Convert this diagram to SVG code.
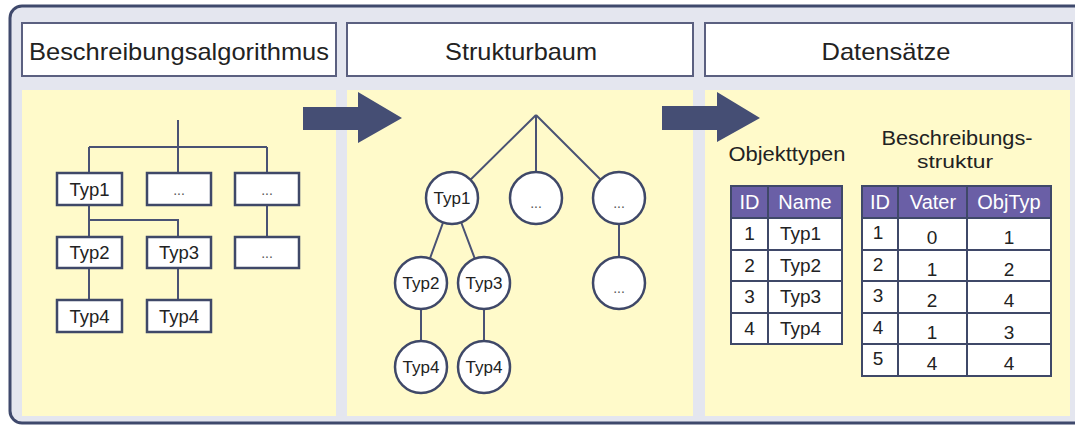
<svg xmlns="http://www.w3.org/2000/svg" width="1075" height="426" viewBox="0 0 1075 426">
  <style>
    text { font-family: "Liberation Sans", Arial, sans-serif; fill: #222; }
    .frame { fill: #e4e6ef; stroke: #3f496c; stroke-width: 3; }
    .head { fill: #ffffff; stroke: #5b6080; stroke-width: 2; }
    .panel { fill: #fffaca; }
    .htxt { font-size: 24px; text-anchor: middle; }
    .arrow { fill: #454e74; }
    .wire { fill: none; stroke: #4a5274; stroke-width: 2; }
    .box { fill: #ffffff; stroke: #3f4868; stroke-width: 2.5; }
    .circ { fill: #ffffff; stroke: #3f4868; stroke-width: 2.5; }
    .lbl { font-size: 18.5px; text-anchor: middle; }
    .clbl { font-size: 17px; text-anchor: middle; }
    .dots { font-size: 14px; text-anchor: middle; fill: #555; }
    .cap { font-size: 20px; text-anchor: middle; }
    .cap2 { font-size: 19px; text-anchor: middle; }
    .thead { fill: #6a5fa6; }
    .tbody { fill: #ffffff; }
    .grid { fill: none; stroke: #3f4868; stroke-width: 2; }
    .th { font-size: 20px; fill: #ffffff; text-anchor: middle; }
    .td { font-size: 19px; text-anchor: middle; }
    .tdl { font-size: 19px; }
  </style>

  <!-- outer frame -->
  <rect class="frame" x="10" y="6" width="1085" height="417" rx="12"/>

  <!-- column headers -->
  <g id="header-algorithmus">
    <rect class="head" x="22" y="23" width="314" height="53"/>
    <text class="htxt" x="179" y="60" textLength="300" lengthAdjust="spacingAndGlyphs">Beschreibungsalgorithmus</text>
  </g>
  <g id="header-strukturbaum">
    <rect class="head" x="347" y="23" width="346" height="53"/>
    <text class="htxt" x="521" y="60" textLength="152" lengthAdjust="spacingAndGlyphs">Strukturbaum</text>
  </g>
  <g id="header-datensaetze">
    <rect class="head" x="705" y="23" width="367" height="53"/>
    <text class="htxt" x="886" y="60" textLength="129" lengthAdjust="spacingAndGlyphs">Datensätze</text>
  </g>

  <!-- yellow panels -->
  <rect class="panel" x="22" y="90" width="314" height="326"/>
  <rect class="panel" x="347" y="90" width="346" height="326"/>
  <rect class="panel" x="705" y="90" width="365" height="326"/>

  <!-- transition arrows -->
  <g id="arrow-1">
    <polygon class="arrow" points="303,107 358,107 358,92 402,118 358,143 358,130 303,130"/>
  </g>
  <g id="arrow-2">
    <polygon class="arrow" points="662,106 717,106 717,92 760,118 717,142 717,130 662,130"/>
  </g>

  <!-- connectors -->
  <g id="connectors">
    <!-- box tree -->
    <path class="wire" d="M178 120 V147 M89 147 H267 M89 147 V173 M178 147 V173 M267 147 V173"/>
    <path class="wire" d="M89 205 V237 M89 220 H178 V237 M267 205 V237"/>
    <path class="wire" d="M89 268 V300 M178 268 V300"/>
    <!-- circle tree -->
    <path class="wire" d="M536 115 L452 198 M536 115 L536 198 M536 115 L619 198"/>
    <path class="wire" d="M452 198 L421 283 M452 198 L484 283 M619 198 L619 283"/>
    <path class="wire" d="M421 283 L421 367 M484 283 L484 367"/>
  </g>

  <!-- box tree nodes -->
  <g id="b-typ1"><rect class="box" x="57" y="173" width="65" height="32"/><text class="lbl" x="89.5" y="196">Typ1</text></g>
  <g id="b-dots1"><rect class="box" x="147" y="173" width="64" height="32"/><text class="dots" x="179" y="195">...</text></g>
  <g id="b-dots2"><rect class="box" x="235" y="173" width="64" height="32"/><text class="dots" x="267" y="195">...</text></g>
  <g id="b-typ2"><rect class="box" x="57" y="237" width="65" height="31"/><text class="lbl" x="89.5" y="259">Typ2</text></g>
  <g id="b-typ3"><rect class="box" x="147" y="237" width="64" height="31"/><text class="lbl" x="179" y="259">Typ3</text></g>
  <g id="b-dots3"><rect class="box" x="235" y="237" width="64" height="31"/><text class="dots" x="267" y="258">...</text></g>
  <g id="b-typ4a"><rect class="box" x="57" y="300" width="65" height="32"/><text class="lbl" x="89.5" y="323">Typ4</text></g>
  <g id="b-typ4b"><rect class="box" x="147" y="300" width="64" height="32"/><text class="lbl" x="179" y="323">Typ4</text></g>

  <!-- circle tree nodes -->
  <g id="c-typ1"><circle class="circ" cx="452" cy="198" r="26"/><text class="clbl" x="452" y="204">Typ1</text></g>
  <g id="c-dots1"><circle class="circ" cx="536" cy="198" r="26"/><text class="dots" x="536" y="208">...</text></g>
  <g id="c-dots2"><circle class="circ" cx="619" cy="198" r="26"/><text class="dots" x="619" y="208">...</text></g>
  <g id="c-typ2"><circle class="circ" cx="421" cy="283" r="26"/><text class="clbl" x="421" y="289">Typ2</text></g>
  <g id="c-typ3"><circle class="circ" cx="484" cy="283" r="26"/><text class="clbl" x="484" y="289">Typ3</text></g>
  <g id="c-dots3"><circle class="circ" cx="619" cy="283" r="26"/><text class="dots" x="619" y="293">...</text></g>
  <g id="c-typ4a"><circle class="circ" cx="421" cy="367" r="26"/><text class="clbl" x="421" y="373">Typ4</text></g>
  <g id="c-typ4b"><circle class="circ" cx="484" cy="367" r="26"/><text class="clbl" x="484" y="373">Typ4</text></g>

  <!-- table: Objekttypen -->
  <g id="table-objekttypen">
    <text class="cap" x="787" y="161" textLength="117" lengthAdjust="spacingAndGlyphs">Objekttypen</text>
    <rect class="thead" x="731" y="186" width="111" height="32"/>
    <rect class="tbody" x="731" y="218" width="111" height="126"/>
    <path class="grid" d="M731 186 H842 V344 H731 Z M768 186 V344 M731 218 H842 M731 250 H842 M731 281 H842 M731 313 H842"/>
    <text class="th" x="749.5" y="209">ID</text>
    <text class="th" x="805" y="209">Name</text>
    <text class="td" x="749.5" y="240">1</text><text class="tdl" x="780" y="240">Typ1</text>
    <text class="td" x="749.5" y="272">2</text><text class="tdl" x="780" y="272">Typ2</text>
    <text class="td" x="749.5" y="303">3</text><text class="tdl" x="780" y="303">Typ3</text>
    <text class="td" x="749.5" y="335">4</text><text class="tdl" x="780" y="335">Typ4</text>
  </g>

  <!-- table: Beschreibungsstruktur -->
  <g id="table-beschreibungsstruktur">
    <text class="cap" x="957" y="145" textLength="151" lengthAdjust="spacingAndGlyphs">Beschreibungs-</text>
    <text class="cap2" x="955" y="168" textLength="76" lengthAdjust="spacingAndGlyphs">struktur</text>
    <rect class="thead" x="862" y="186" width="189" height="32"/>
    <rect class="tbody" x="862" y="218" width="189" height="158"/>
    <path class="grid" d="M862 186 H1051 V376 H862 Z M898 186 V376 M967 186 V376 M862 218 H1051 M862 250 H1051 M862 281 H1051 M862 313 H1051 M862 344 H1051"/>
    <text class="th" x="880" y="209">ID</text>
    <text class="th" x="933" y="209">Vater</text>
    <text class="th" x="1009" y="209">ObjTyp</text>
    <text class="td" x="878" y="239">1</text><text class="td" x="932" y="244">0</text><text class="td" x="1009" y="244">1</text>
    <text class="td" x="878" y="271">2</text><text class="td" x="932" y="276">1</text><text class="td" x="1009" y="276">2</text>
    <text class="td" x="878" y="302">3</text><text class="td" x="932" y="307">2</text><text class="td" x="1009" y="307">4</text>
    <text class="td" x="878" y="334">4</text><text class="td" x="932" y="339">1</text><text class="td" x="1009" y="339">3</text>
    <text class="td" x="878" y="365">5</text><text class="td" x="932" y="370">4</text><text class="td" x="1009" y="370">4</text>
  </g>
</svg>
